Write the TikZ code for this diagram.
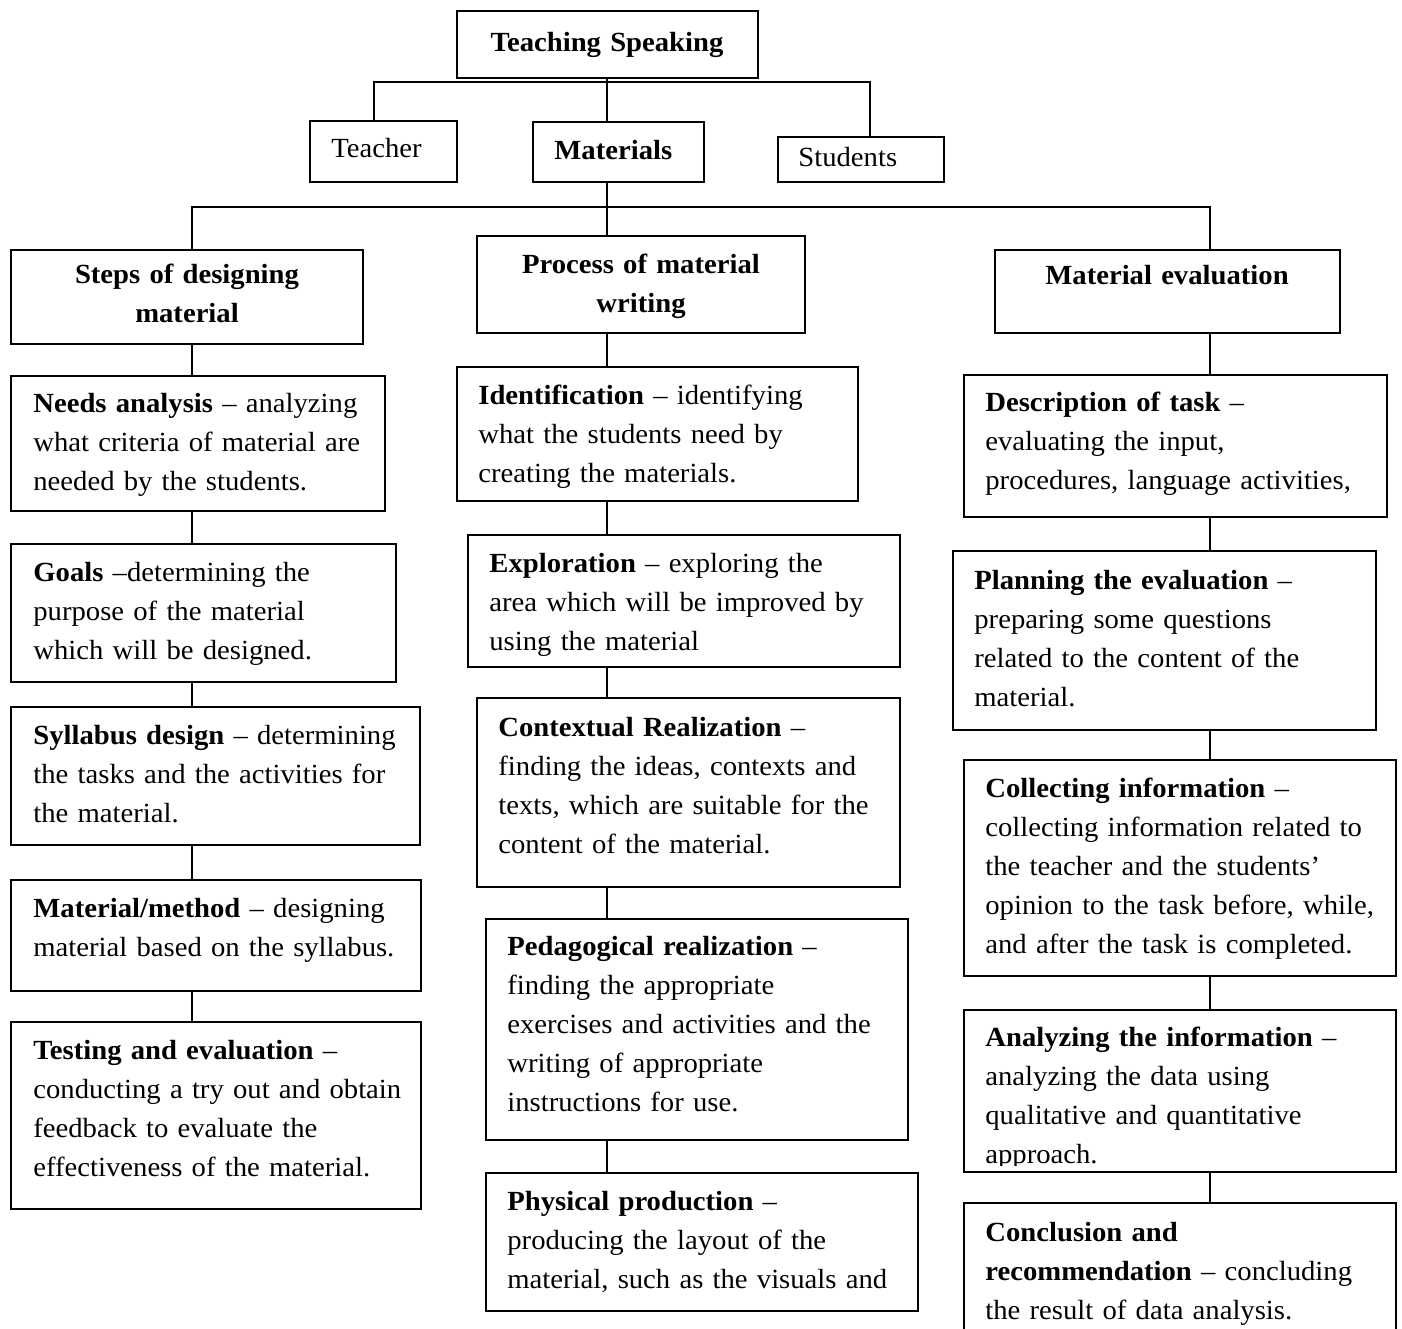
\documentclass[tikz,border=0pt]{standalone}
\usepackage{fontspec}
\setmainfont[FakeStretch=1.035]{Liberation Serif}
\usetikzlibrary{fit}
\begin{document}
\begin{tikzpicture}[x=0.5pt,y=-0.5pt,
  box/.style={draw, line width=1pt, inner sep=0pt, fit={#1}},
  conn/.style={line width=0.8pt},
  txt/.style={inner sep=0pt, anchor=base west, align=left, text width=205pt,
    font=\fontsize{13.85}{19.5}\selectfont},
  hd/.style={inner sep=0pt, anchor=base, align=center, text width=170pt,
    font=\bfseries\fontsize{13.85}{19.5}\selectfont},
  plain/.style={inner sep=0pt, anchor=base west, font=\fontsize{13.85}{19.5}\selectfont}]
\useasboundingbox (0,0) rectangle (1402,1328);

% ---------- top level ----------
\node[box={(457,11) (758,78)}] (ts) {};
\node[hd] (tsT) at (607,51) {Teaching Speaking};
\node[box={(310,121) (457,182)}] (teacher) {};
\node[plain] (teacherT) at (331,157) {Teacher};
\node[box={(533,122) (704,182)}] (materials) {};
\node[plain, font=\bfseries\fontsize{13.85}{19.5}\selectfont] (materialsT) at (554,159) {Materials};
\node[box={(778,137) (944,182)}] (students) {};
\node[plain] (studentsT) at (798,166) {Students};

\coordinate (t1) at (374,82);
\coordinate (t3) at (870,82);
\coordinate (cl) at (192,207);
\coordinate (cm) at (607,207);
\coordinate (cr) at (1210,207);

\draw[conn] (teacher.north -| t1) -- (t1) -- (t3) -- (students.north -| t3);
\draw[conn] (ts.south -| cm) -- (materials.north -| cm);

% ---------- second level ----------
\node[box={(11,250) (363,344)}] (steps) {};
\node[hd] (stepsT) at (187,283) {Steps of designing\\material};
\node[box={(477,236) (805,333)}] (process) {};
\node[hd] (processT) at (641,273) {Process of material\\writing};
\node[box={(995,250) (1340,333)}] (mateval) {};
\node[hd] (matevalT) at (1167,284) {Material evaluation};

\draw[conn] (steps.north -| cl) -- (cl) -- (cr) -- (mateval.north -| cr);
\draw[conn] (materials.south -| cm) -- (process.north -| cm);

% ---------- left column ----------
\node[box={(11,376) (385,511)}] (needs) {};
\node[txt] (needsT) at (33,412.5) {\textbf{Needs analysis} – analyzing\\what criteria of material are\\needed by the students.};
\node[box={(11,544) (396,682)}] (goals) {};
\node[txt] (goalsT) at (33,581.5) {\textbf{Goals} –determining the\\purpose of the material\\which will be designed.};
\node[box={(11,707) (420,845)}] (syll) {};
\node[txt] (syllT) at (33,744.5) {\textbf{Syllabus design} – determining\\the tasks and the activities for\\the material.};
\node[box={(11,880) (421,991)}] (method) {};
\node[txt] (methodT) at (33,917.5) {\textbf{Material/method} – designing\\material based on the syllabus.};
\node[box={(11,1022) (421,1209)}] (testing) {};
\node[txt] (testingT) at (33,1059.5) {\textbf{Testing and evaluation} –\\conducting a try out and obtain\\feedback to evaluate the\\effectiveness of the material.};

\draw[conn] (steps.south -| cl) -- (needs.north -| cl);
\draw[conn] (needs.south -| cl) -- (goals.north -| cl);
\draw[conn] (goals.south -| cl) -- (syll.north -| cl);
\draw[conn] (syll.south -| cl) -- (method.north -| cl);
\draw[conn] (method.south -| cl) -- (testing.north -| cl);

% ---------- middle column ----------
\node[box={(457,367) (858,501)}] (ident) {};
\node[txt] (identT) at (478,404.5) {\textbf{Identification} – identifying\\what the students need by\\creating the materials.};
\node[box={(468,535) (900,667)}] (explor) {};
\node[txt] (explorT) at (489,572.5) {\textbf{Exploration} – exploring the\\area which will be improved by\\using the material};
\node[box={(477,698) (900,887)}] (context) {};
\node[txt] (contextT) at (498,736.5) {\textbf{Contextual Realization} –\\finding the ideas, contexts and\\texts, which are suitable for the\\content of the material.};
\node[box={(486,919) (908,1140)}] (pedag) {};
\node[txt] (pedagT) at (507,955.5) {\textbf{Pedagogical realization} –\\finding the appropriate\\exercises and activities and the\\writing of appropriate\\instructions for use.};
\node[box={(486,1173) (918,1311)}] (phys) {};
\node[txt] (physT) at (507,1210.5) {\textbf{Physical production} –\\producing the layout of the\\material, such as the visuals and};

\draw[conn] (process.south -| cm) -- (ident.north -| cm);
\draw[conn] (ident.south -| cm) -- (explor.north -| cm);
\draw[conn] (explor.south -| cm) -- (context.north -| cm);
\draw[conn] (context.south -| cm) -- (pedag.north -| cm);
\draw[conn] (pedag.south -| cm) -- (phys.north -| cm);

% ---------- right column ----------
\node[box={(964,375) (1387,517)}] (descr) {};
\node[txt] (descrT) at (985,411.5) {\textbf{Description of task} –\\evaluating the input,\\procedures, language activities,};
\node[box={(953,551) (1376,730)}] (plan) {};
\node[txt] (planT) at (974,589.5) {\textbf{Planning the evaluation} –\\preparing some questions\\related to the content of the\\material.};
\node[box={(964,760) (1396,976)}] (collect) {};
\node[txt] (collectT) at (985,797.5) {\textbf{Collecting information} –\\collecting information related to\\the teacher and the students’\\opinion to the task before, while,\\and after the task is completed.};
\node[box={(964,1010) (1396,1172)}] (analyze) {};
\begin{scope}
  \clip (964,1010) rectangle (1396,1165);
  \node[txt] (analyzeT) at (985,1046.5) {\textbf{Analyzing the information} –\\analyzing the data using\\qualitative and quantitative\\approach.};
\end{scope}
\node[box={(964,1203) (1396,1345)}] (concl) {};
\node[txt] (conclT) at (985,1241.5) {\textbf{Conclusion and}\\\textbf{recommendation} – concluding\\the result of data analysis.};

\draw[conn] (mateval.south -| cr) -- (descr.north -| cr);
\draw[conn] (descr.south -| cr) -- (plan.north -| cr);
\draw[conn] (plan.south -| cr) -- (collect.north -| cr);
\draw[conn] (collect.south -| cr) -- (analyze.north -| cr);
\draw[conn] (analyze.south -| cr) -- (concl.north -| cr);
\end{tikzpicture}
\end{document}
